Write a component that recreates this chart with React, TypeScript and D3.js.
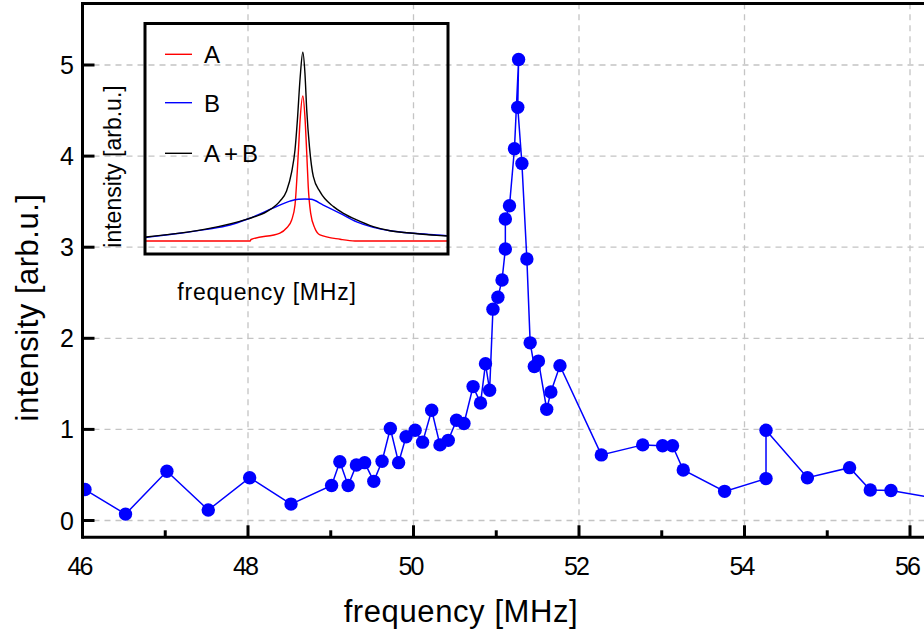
import React from "react";
import * as d3 from "d3";

// ---- main series ----
const freq = [
  46.03, 46.52, 47.02, 47.52, 48.02, 48.52, 49.01, 49.11, 49.21, 49.31, 49.41, 49.52, 49.62, 49.72,
  49.82, 49.91, 50.02, 50.11, 50.22, 50.32, 50.42, 50.52, 50.61, 50.72, 50.81, 50.87, 50.92, 50.96,
  51.02, 51.07, 51.11, 51.11, 51.16, 51.22, 51.27, 51.26, 51.31, 51.37, 51.41, 51.46, 51.51, 51.61,
  51.66, 51.77, 52.27, 52.77, 53.01, 53.13, 53.26, 53.76, 54.26, 54.26, 54.76, 55.27, 55.52, 55.77,
  56.27,
];
const intensity = [
  0.34, 0.07, 0.54, 0.115, 0.47, 0.18, 0.385, 0.645, 0.385, 0.61, 0.635, 0.43, 0.65, 1.01,
  0.635, 0.92, 0.99, 0.86, 1.21, 0.83, 0.88, 1.1, 1.065, 1.47, 1.29, 1.72, 1.43, 2.32,
  2.45, 2.64, 2.98, 3.31, 3.455, 4.08, 5.06, 4.535, 3.92, 2.87, 1.95, 1.69, 1.75, 1.22,
  1.41, 1.7, 0.72, 0.83, 0.82, 0.82, 0.555, 0.32, 0.46, 0.99, 0.47, 0.58, 0.335, 0.33,
  0.25,
];
const xTicks = [46, 48, 50, 52, 54, 56];
const xMinorTicks = [47, 49, 51, 53, 55];
const yTicks = [0, 1, 2, 3, 4, 5];

// ---- inset series (arbitrary units) ----
const aX = [0, 34.6, 34.9, 44.5, 46.7, 48.4, 49.5, 50.6, 51.2, 52.1, 52.8, 53.4, 53.9, 54.7, 56.1, 57.8, 64.5, 69.4, 100];
const aY = [5.65, 5.65, 6.3, 9.1, 11.3, 14.8, 21.3, 43.9, 58.3, 68.7, 59.7, 43.9, 29.3, 17.8, 11.2, 8.3, 6.4, 5.65, 5.65];
const bX = [0, 8.0, 20.2, 27.9, 33.6, 42.2, 47.8, 50.6, 52.8, 54.8, 58.9, 64.5, 70.0, 75.5, 81.1, 88.8, 96.6, 100];
const bY = [7.2, 8.5, 10.7, 12.6, 15.1, 19.9, 23.0, 23.8, 23.9, 23.8, 21.3, 17.7, 14.0, 11.6, 10.1, 9.0, 8.3, 8.0];
const abX = [0, 20.2, 33.6, 40.1, 44.5, 46.7, 48.4, 49.5, 50.3, 51.2, 52.1, 52.8, 53.4, 54.3, 55.6, 57.8, 62.3, 65.6, 70.0, 75.5, 81.1, 88.8, 96.6, 100];
const abY = [7.4, 10.9, 15.2, 18.4, 23.0, 27.4, 35.7, 45.2, 58.3, 76.5, 87.7, 78.7, 62.6, 46.7, 33.6, 27.1, 20.6, 17.7, 14.8, 11.9, 10.1, 9.0, 8.1, 7.8];
const legendLabels = ["A", "B", "A+B"];
const seriesColors = ["#ff0000", "#0000ff", "#000000"];

const FONT = "'Liberation Sans', Arial, sans-serif";

export default function App() {
  const W = 924, H = 637;
  const x = d3.scaleLinear().domain([46, 56]).range([82.5, 910]);
  const y = d3.scaleLinear().domain([0, 5]).range([520.5, 65]);
  const left = 82.5, bottom = 537.3, top = 3.5, right = 930;

  const mainPts = freq.map((f, i) => [f, intensity[i]] as [number, number]);
  const mainLine = d3.line<[number, number]>().x(d => x(d[0])).y(d => y(d[1]))(mainPts) || "";

  // inset
  const ix = d3.scaleLinear().domain([0, 100]).range([146, 447]);
  const iy = d3.scaleLinear().domain([0, 100]).range([254, 24]);
  const iline = d3.line<[number, number]>().x(d => ix(d[0])).y(d => iy(d[1])).curve(d3.curveMonotoneX);
  const curves = [
    aX.map((v, i) => [v, aY[i]] as [number, number]),
    bX.map((v, i) => [v, bY[i]] as [number, number]),
    abX.map((v, i) => [v, abY[i]] as [number, number]),
  ];
  const legendY = [54.3, 102.7, 153.3];

  return (
    <svg width={W} height={H} style={{ position: "absolute", left: 0, top: 0, background: "#fff" }} fontFamily={FONT}>
      <defs>
        <clipPath id="plotClip">
          <rect x={left} y={top} width={right - left} height={bottom - top} />
        </clipPath>
        <clipPath id="insetClip">
          <rect x={146} y={24} width={301} height={230} />
        </clipPath>
      </defs>
      <rect x={0} y={0} width={W} height={H} fill="#fff" />
      {/* grid */}
      <g stroke="#c4c4c4" strokeWidth={1.3} strokeDasharray="6,5">
        {xTicks.filter(t => t !== 46).map(t => (
          <line key={"gx" + t} x1={x(t)} x2={x(t)} y1={bottom} y2={top} />
        ))}
        {yTicks.map(t => (
          <line key={"gy" + t} x1={left} x2={W} y1={y(t)} y2={y(t)} />
        ))}
      </g>
      {/* data */}
      <g clipPath="url(#plotClip)">
        <path d={mainLine} fill="none" stroke="#0000ff" strokeWidth={1.5} />
        {mainPts.map((d, i) => (
          <circle key={i} cx={x(d[0])} cy={y(d[1])} r={6.7} fill="#0000ff" />
        ))}
      </g>
      {/* frame */}
      <g stroke="#000" strokeWidth={3} fill="none">
        <line x1={left} x2={left} y1={top - 1.5} y2={bottom + 1.5} />
        <line x1={left} x2={W} y1={bottom} y2={bottom} />
        <line x1={left} x2={W} y1={top} y2={top} />
        {xTicks.map(t => (
          <line key={"tx" + t} x1={x(t)} x2={x(t)} y1={bottom} y2={bottom - 12} />
        ))}
        {xMinorTicks.map(t => (
          <line key={"mx" + t} x1={x(t)} x2={x(t)} y1={bottom} y2={bottom - 7} />
        ))}
        {yTicks.map(t => (
          <line key={"ty" + t} x1={left} x2={left + 12} y1={y(t)} y2={y(t)} />
        ))}
      </g>
      {/* tick labels */}
      <g fontSize={25} fill="#000" letterSpacing={-2}>
        {xTicks.map(t => (
          <text key={"lx" + t} x={x(t) - 3} y={575} textAnchor="middle">{t}</text>
        ))}
        {yTicks.map(t => (
          <text key={"ly" + t} x={72} y={y(t) + 9} textAnchor="end">{t}</text>
        ))}
      </g>
      {/* axis titles */}
      <text x={461} y={622} fontSize={31} textAnchor="middle" letterSpacing={0.6}>frequency [MHz]</text>
      <text transform={`translate(38,307.5) rotate(-90)`} fontSize={31} textAnchor="middle" letterSpacing={0.5}>intensity [arb.u.]</text>

      {/* inset */}
      <g clipPath="url(#insetClip)">
        {curves.map((c, i) => (
          <path key={"c" + i} d={iline(c) || ""} fill="none" stroke={seriesColors[i]} strokeWidth={1.4} />
        ))}
      </g>
      <rect x={145} y={23.5} width={303} height={230.5} fill="none" stroke="#000" strokeWidth={3} />
      {legendLabels.map((lab, i) => (
        <g key={"lg" + i}>
          <line x1={165} x2={192} y1={legendY[i]} y2={legendY[i]} stroke={seriesColors[i]} strokeWidth={1.4} />
          <text x={204} y={legendY[i] + 9} fontSize={24} letterSpacing={i === 2 ? 4 : 0}>{lab}</text>
        </g>
      ))}
      <text x={267} y={300} fontSize={23} textAnchor="middle" letterSpacing={0.8}>frequency [MHz]</text>
      <text transform={`translate(121,166.5) rotate(-90)`} fontSize={23} textAnchor="middle">intensity [arb.u.]</text>
    </svg>
  );
}
